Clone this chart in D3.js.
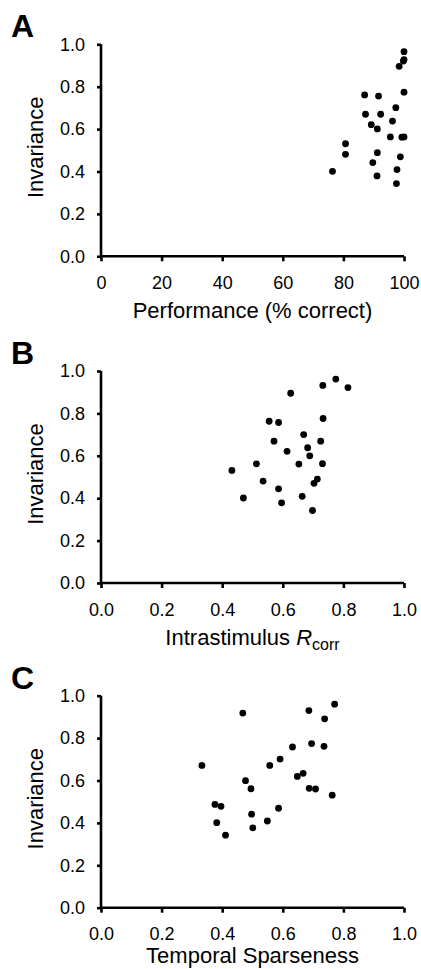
<!DOCTYPE html>
<html>
<head>
<meta charset="utf-8">
<script src="https://cdn.jsdelivr.net/npm/d3@7"></script>
<style>
  body { margin: 0; background: #fff; }
  text { font-family: "Liberation Sans", Arial, sans-serif; fill: #000; }
</style>
</head>
<body>
<div id="chart"></div>
<script>
// Invariance is shared by all three panels (25 cells)
const invA = [0.965, 0.928, 0.921, 0.896, 0.774, 0.761, 0.756, 0.701, 0.670, 0.670, 0.638, 0.621, 0.601, 0.563, 0.562, 0.563, 0.531, 0.481, 0.489, 0.469, 0.442, 0.401, 0.409, 0.379, 0.343];
const perfA = [100, 100, 99.8, 98.4, 100, 87.0, 91.6, 97.3, 87.3, 92.3, 96.2, 89.2, 91.2, 95.5, 99.3, 100, 80.7, 80.7, 91.2, 98.8, 89.7, 76.4, 97.7, 91.1, 97.5];

const invB = [0.962, 0.932, 0.922, 0.895, 0.776, 0.763, 0.757, 0.700, 0.669, 0.669, 0.638, 0.621, 0.600, 0.562, 0.561, 0.563, 0.531, 0.481, 0.490, 0.470, 0.444, 0.401, 0.409, 0.378, 0.342];
const rcorrB = [0.775, 0.732, 0.815, 0.626, 0.733, 0.555, 0.586, 0.669, 0.571, 0.725, 0.682, 0.614, 0.689, 0.513, 0.653, 0.731, 0.432, 0.535, 0.714, 0.703, 0.586, 0.470, 0.664, 0.596, 0.698];

const invC = [0.960, 0.930, 0.891, 0.918, 0.774, 0.761, 0.758, 0.701, 0.671, 0.671, 0.634, 0.619, 0.599, 0.561, 0.563, 0.560, 0.531, 0.487, 0.478, 0.469, 0.441, 0.401, 0.409, 0.377, 0.342];
const sparseC = [0.771, 0.686, 0.738, 0.468, 0.695, 0.736, 0.632, 0.591, 0.557, 0.333, 0.667, 0.648, 0.477, 0.495, 0.687, 0.708, 0.763, 0.376, 0.396, 0.586, 0.497, 0.382, 0.549, 0.501, 0.411];

const yTicks = [0, 0.2, 0.4, 0.6, 0.8, 1.0];
const xTicksA = [0, 20, 40, 60, 80, 100];
const xTicksBC = [0, 0.2, 0.4, 0.6, 0.8, 1.0];

const W = 421, H = 969;
const left = 101, right = 404, plotH = 212;

const svg = d3.select("#chart").append("svg")
  .attr("width", W)
  .attr("height", H);

const panels = [
  { letter: "A", top: 44.3, xs: perfA, ys: invA, domain: [0, 100], ticks: xTicksA, fmt: d3.format("d"), labelY: 318 },
  { letter: "B", top: 371, xs: rcorrB, ys: invB, domain: [0, 1], ticks: xTicksBC, fmt: d3.format(".1f"), labelY: 645 },
  { letter: "C", top: 695.7, xs: sparseC, ys: invC, domain: [0, 1], ticks: xTicksBC, fmt: d3.format(".1f"), labelY: 963 }
];

panels.forEach(p => {
  const x = d3.scaleLinear().domain(p.domain).range([left, right]);
  const y = d3.scaleLinear().domain([0, 1]).range([p.top + plotH, p.top]);
  const g = svg.append("g");

  // y axis
  const ya = g.append("g")
    .attr("transform", `translate(${left},0)`)
    .call(d3.axisLeft(y).tickValues(yTicks).tickFormat(d3.format(".1f")).tickSize(4).tickPadding(12));
  // x axis
  const xa = g.append("g")
    .attr("transform", `translate(0,${p.top + plotH})`)
    .call(d3.axisBottom(x).tickValues(p.ticks).tickFormat(p.fmt).tickSize(5).tickPadding(15));

  [ya, xa].forEach(a => {
    a.select(".domain").attr("stroke", "#000").attr("stroke-width", 2.6);
    a.selectAll(".tick line").attr("stroke", "#000").attr("stroke-width", 2.6);
    a.selectAll("text").attr("font-size", 18).attr("fill", "#000")
      .style("font-family", "'Liberation Sans', Arial, sans-serif");
  });
  ya.select(".domain").attr("d", `M0,${p.top + plotH}V${p.top}`);
  xa.select(".domain").attr("d", `M${left},0H${right}`);

  // points
  g.selectAll("circle")
    .data(p.xs.map((v, i) => [v, p.ys[i]]))
    .enter()
    .append("circle")
    .attr("cx", d => x(d[0]))
    .attr("cy", d => y(d[1]))
    .attr("r", 3.4)
    .attr("fill", "#000");

  // panel letter
  g.append("text")
    .attr("x", 11)
    .attr("y", p.top - 7)
    .attr("font-size", 32)
    .attr("font-weight", "bold")
    .text(p.letter);

  // y label
  g.append("text")
    .attr("transform", `translate(43,${p.top + plotH / 2 - 3}) rotate(-90)`)
    .attr("text-anchor", "middle")
    .attr("font-size", 22)
    .text("Invariance");

  // x label
  const xl = g.append("text")
    .attr("x", (left + right) / 2)
    .attr("y", p.labelY)
    .attr("text-anchor", "middle")
    .attr("font-size", 22);
  if (p.letter === "A") {
    xl.text("Performance (% correct)");
  } else if (p.letter === "B") {
    xl.append("tspan").text("Intrastimulus ");
    xl.append("tspan").attr("font-style", "italic").text("R");
    xl.append("tspan").attr("font-size", 16).attr("dy", 5).text("corr");
  } else {
    xl.text("Temporal Sparseness");
  }
});
</script>
</body>
</html>
